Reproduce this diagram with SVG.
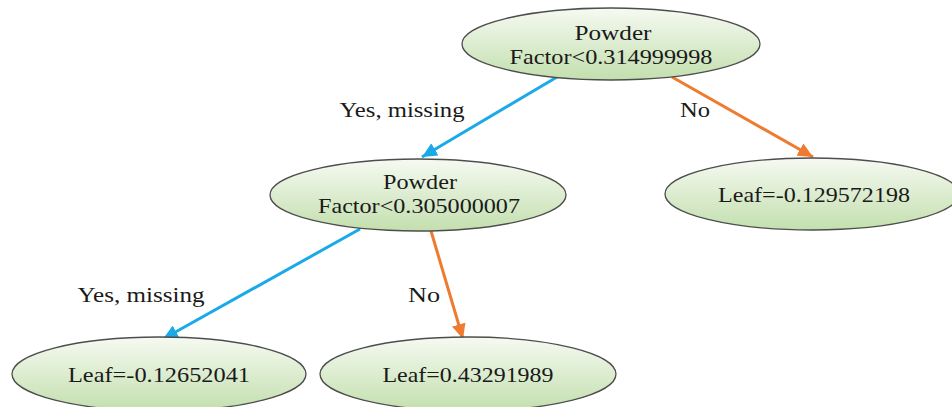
<svg xmlns="http://www.w3.org/2000/svg" width="952" height="407" viewBox="0 0 952 407">
  <style>
    .node ellipse { fill: url(#g); stroke: #4d4d4d; stroke-width: 1.3; }
    text { font-family: "Liberation Serif", "Times New Roman", serif; font-size: 21px; fill: #1a1a1a; text-anchor: middle; }
    .blue { stroke: #1ba9e8; stroke-width: 3; fill: none; }
    .orange { stroke: #ee7b30; stroke-width: 3; fill: none; }
  </style>
  <defs>
    <linearGradient id="g" x1="0" y1="0" x2="0" y2="1">
      <stop offset="0" stop-color="#f6faf2"/>
      <stop offset="1" stop-color="#c3dfae"/>
    </linearGradient>
    <marker id="ab" markerUnits="userSpaceOnUse" markerWidth="16" markerHeight="14" refX="15" refY="7" orient="auto">
      <path d="M0,0 L15,7 L0,14 Z" fill="#1ba9e8"/>
    </marker>
    <marker id="ao" markerUnits="userSpaceOnUse" markerWidth="16" markerHeight="14" refX="15" refY="7" orient="auto">
      <path d="M0,0 L15,7 L0,14 Z" fill="#ee7b30"/>
    </marker>
  </defs>
  <rect width="952" height="407" fill="#ffffff"/>

  <g id="connectors">
    <line class="blue" x1="557" y1="77" x2="422" y2="157" marker-end="url(#ab)"/>
    <line class="orange" x1="672" y1="77" x2="813" y2="157" marker-end="url(#ao)"/>
    <line class="blue" x1="360" y1="229" x2="163" y2="339" marker-end="url(#ab)"/>
    <line class="orange" x1="431" y1="231" x2="463" y2="339" marker-end="url(#ao)"/>
    <text x="402" y="117" textLength="125" lengthAdjust="spacingAndGlyphs">Yes, missing</text>
    <text x="695" y="117" textLength="30" lengthAdjust="spacingAndGlyphs">No</text>
    <text x="141" y="302" textLength="127" lengthAdjust="spacingAndGlyphs">Yes, missing</text>
    <text x="424" y="302" textLength="32" lengthAdjust="spacingAndGlyphs">No</text>
  </g>

  <g id="root" class="node">
    <ellipse cx="611" cy="44" rx="149" ry="36"/>
    <text x="613" y="40" textLength="77" lengthAdjust="spacingAndGlyphs">Powder</text>
    <text x="611" y="64" textLength="203" lengthAdjust="spacingAndGlyphs">Factor&lt;0.314999998</text>
  </g>

  <g id="split2" class="node">
    <ellipse cx="418" cy="195" rx="148" ry="36"/>
    <text x="420" y="189" textLength="74" lengthAdjust="spacingAndGlyphs">Powder</text>
    <text x="419" y="213" textLength="202" lengthAdjust="spacingAndGlyphs">Factor&lt;0.305000007</text>
  </g>

  <g id="leaf-right" class="node">
    <ellipse cx="812" cy="194" rx="147" ry="36"/>
    <text x="814" y="202" textLength="192" lengthAdjust="spacingAndGlyphs">Leaf=-0.129572198</text>
  </g>

  <g id="leaf-left" class="node">
    <ellipse cx="159" cy="374" rx="147" ry="37"/>
    <text x="159" y="382" textLength="182" lengthAdjust="spacingAndGlyphs">Leaf=-0.12652041</text>
  </g>

  <g id="leaf-mid" class="node">
    <ellipse cx="468" cy="374" rx="148" ry="37"/>
    <text x="468" y="382" textLength="171" lengthAdjust="spacingAndGlyphs">Leaf=0.43291989</text>
  </g>
</svg>
